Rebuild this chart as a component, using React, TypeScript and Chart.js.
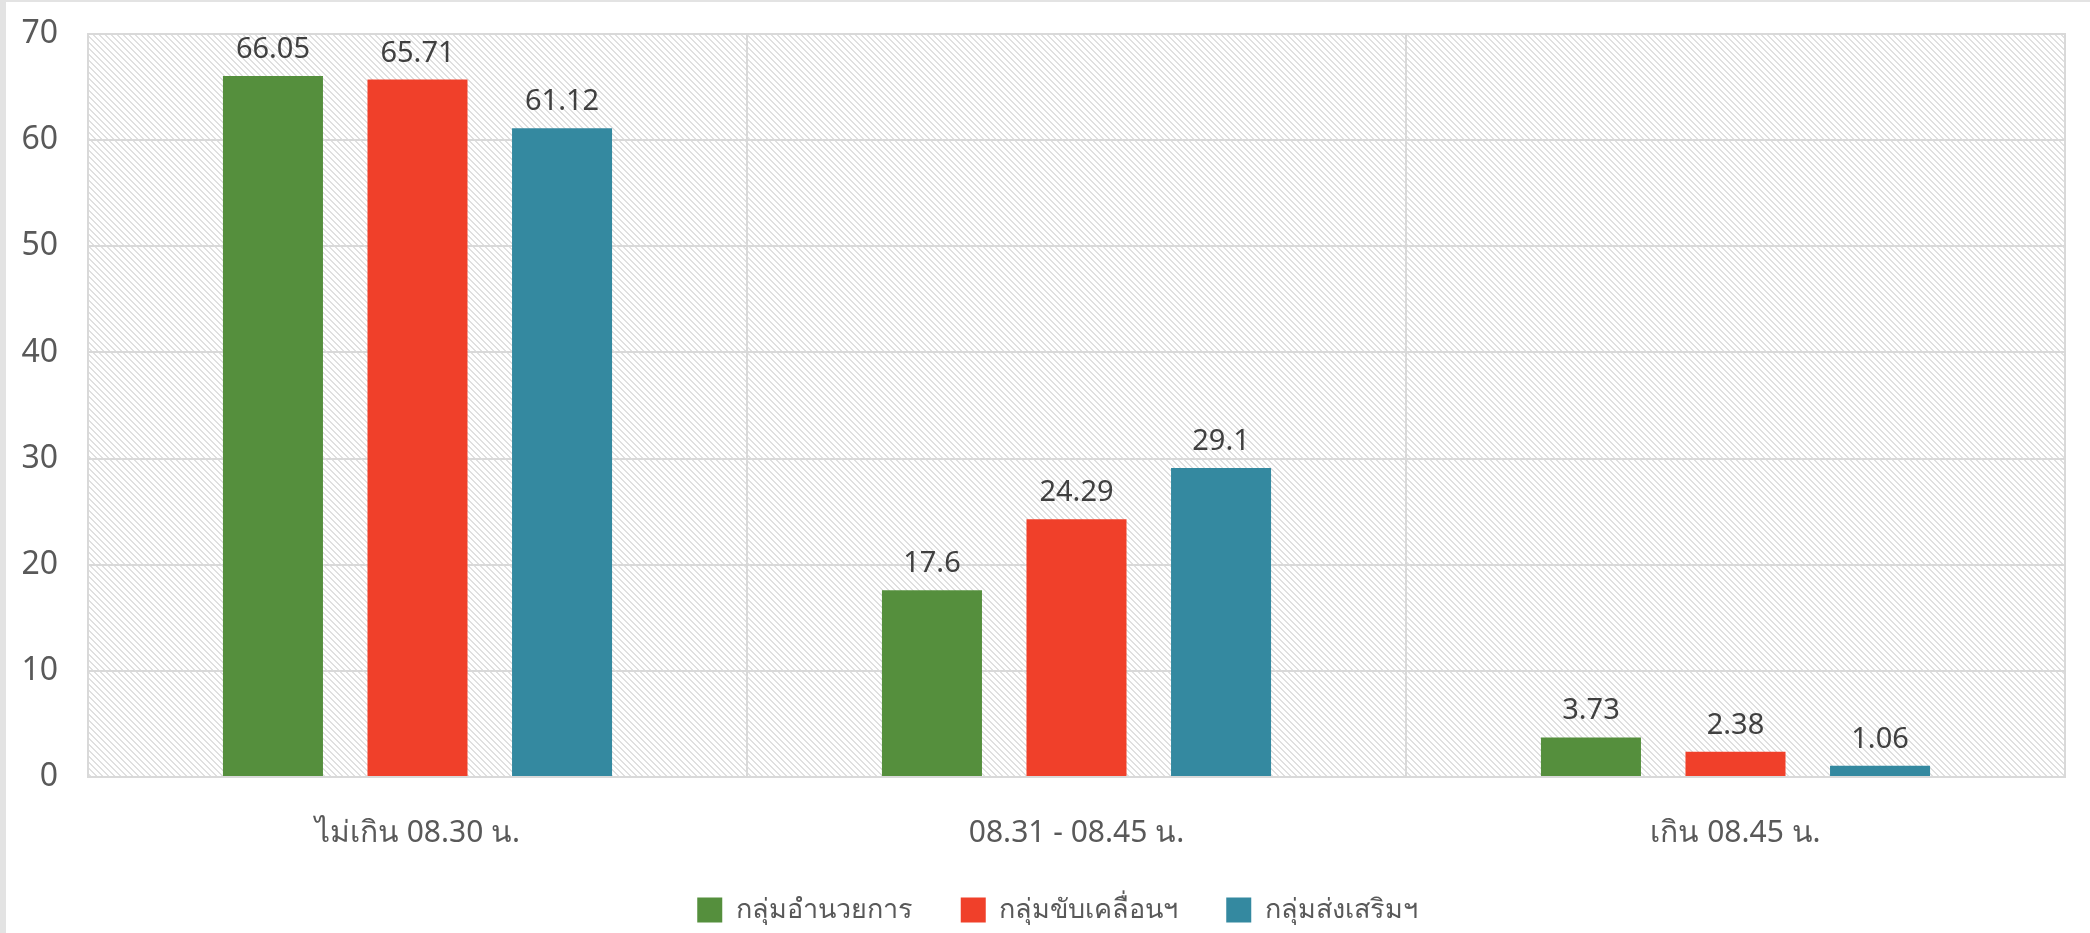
import React, { useEffect, useRef } from "react";
import { Chart, registerables } from "chart.js";

Chart.register(...registerables);

const categories = ["ไม่เกิน 08.30 น.", "08.31 - 08.45 น.", "เกิน 08.45 น."];
const seriesNames = ["กลุ่มอำนวยการ", "กลุ่มขับเคลื่อนฯ", "กลุ่มส่งเสริมฯ"];
const adminValues = [66.05, 17.6, 3.73];
const driveValues = [65.71, 24.29, 2.38];
const promoteValues = [61.12, 29.1, 1.06];
const seriesColors = ["#558F3D", "#F0402A", "#3489A0"];
const yTicks = [0, 10, 20, 30, 40, 50, 60, 70];

const FONT = "'Noto Sans', 'Lato', 'DejaVu Sans', sans-serif";
const GRID = "#d9d9d9";
const LEGEND_PAD = 48;
const LEGEND_FONT = 27;
const LEGEND_CENTER_Y = 908;
const LEGEND_DX = 22;

function makePattern(): CanvasPattern | string {
  const c = document.createElement("canvas");
  c.width = 6;
  c.height = 6;
  const g = c.getContext("2d");
  if (!g) return "#f4f4f4";
  g.fillStyle = "#ffffff";
  g.fillRect(0, 0, 6, 6);
  g.fillStyle = "#e0e0e0";
  for (let i = 0; i < 6; i++) {
    g.fillRect(i, i, 1, 1);
    g.fillRect((i + 1) % 6, i, 1, 1);
  }
  const p = g.createPattern(c, "repeat");
  return p || "#f4f4f4";
}

const hatchPlugin = {
  id: "hatch",
  beforeDraw(chart: any) {
    const { ctx, chartArea } = chart;
    if (!chartArea) return;
    ctx.save();
    ctx.fillStyle = makePattern();
    ctx.fillRect(chartArea.left, chartArea.top, chartArea.right - chartArea.left, chartArea.bottom - chartArea.top);
    ctx.restore();
  },
  afterDraw(chart: any) {
    const { ctx, chartArea } = chart;
    ctx.save();
    ctx.strokeStyle = GRID;
    ctx.lineWidth = 2;
    ctx.strokeRect(chartArea.left, chartArea.top, chartArea.right - chartArea.left, chartArea.bottom - chartArea.top);
    ctx.restore();
  },
};

const legendShiftPlugin = {
  id: "legendShift",
  beforeLayout(chart: any) {
    const lg = chart.legend;
    if (lg && !lg._shiftPatched) {
      const origDraw = lg.draw.bind(lg);
      lg.draw = function () {
        const ctx = chart.ctx;
        const rowCenter = lg.top + LEGEND_PAD + LEGEND_FONT / 2;
        ctx.save();
        ctx.translate(LEGEND_DX, LEGEND_CENTER_Y - rowCenter);
        origDraw();
        ctx.restore();
      };
      lg._shiftPatched = true;
    }
  },
};

const valueLabelPlugin = {
  id: "valueLabels",
  afterDatasetsDraw(chart: any) {
    const { ctx } = chart;
    ctx.save();
    ctx.font = `29px ${FONT}`;
    ctx.fillStyle = "#404040";
    ctx.textAlign = "center";
    ctx.textBaseline = "alphabetic";
    chart.data.datasets.forEach((ds: any, di: number) => {
      const meta = chart.getDatasetMeta(di);
      meta.data.forEach((el: any, i: number) => {
        ctx.fillText(String(ds.data[i]), el.x, el.y - 18);
      });
    });
    ctx.restore();
  },
};

export default function App() {
  const canvasRef = useRef<HTMLCanvasElement | null>(null);

  useEffect(() => {
    document.body.style.margin = "0";
    const canvas = canvasRef.current;
    if (!canvas) return;
    const chart = new Chart(canvas, {
      type: "bar",
      data: {
        labels: categories,
        datasets: [adminValues, driveValues, promoteValues].map((d, i) => ({
          label: seriesNames[i],
          data: d,
          backgroundColor: seriesColors[i],
          borderWidth: 0,
          categoryPercentage: 0.658,
          barPercentage: 0.692,
        })),
      },
      options: {
        responsive: false,
        animation: false,
        devicePixelRatio: 1,
        layout: { padding: { top: 32, right: 25, bottom: 0, left: 0 } },
        plugins: {
          tooltip: { enabled: false },
          legend: {
            position: "bottom",
            labels: {
              font: { family: FONT, size: LEGEND_FONT },
              color: "#595959",
              boxWidth: 25,
              boxHeight: 25,
              padding: LEGEND_PAD,
            },
          },
        },
        scales: {
          x: {
            grid: { color: GRID, lineWidth: 2, drawTicks: false, offset: true },
            border: { color: GRID, width: 2 },
            ticks: { font: { family: FONT, size: 30 }, color: "#595959", padding: 38, autoSkip: false, maxRotation: 0 },
            afterFit(scale: any) {
              scale.height = 71;
            },
          },
          y: {
            min: 0,
            max: 70,
            afterBuildTicks(scale: any) {
              scale.ticks = yTicks.map((v) => ({ value: v }));
            },
            grid: { color: GRID, lineWidth: 2, drawTicks: false },
            border: { color: GRID, width: 2 },
            ticks: { font: { family: FONT, size: 32 }, color: "#595959", padding: 30 },
            afterFit(scale: any) {
              scale.width = 82;
              scale.paddingTop = 0;
              scale.paddingBottom = 0;
            },
          },
        },
      },
      plugins: [hatchPlugin, valueLabelPlugin, legendShiftPlugin],
    });
    return () => chart.destroy();
  }, []);

  return (
    <div
      style={{
        position: "fixed",
        left: 0,
        top: 0,
        width: 2090,
        height: 933,
        boxSizing: "border-box",
        borderLeft: "6px solid #e3e3e3",
        borderTop: "2px solid #e3e3e3",
        background: "#ffffff",
      }}
    >
      <canvas ref={canvasRef} width={2084} height={931} style={{ display: "block" }} />
    </div>
  );
}
